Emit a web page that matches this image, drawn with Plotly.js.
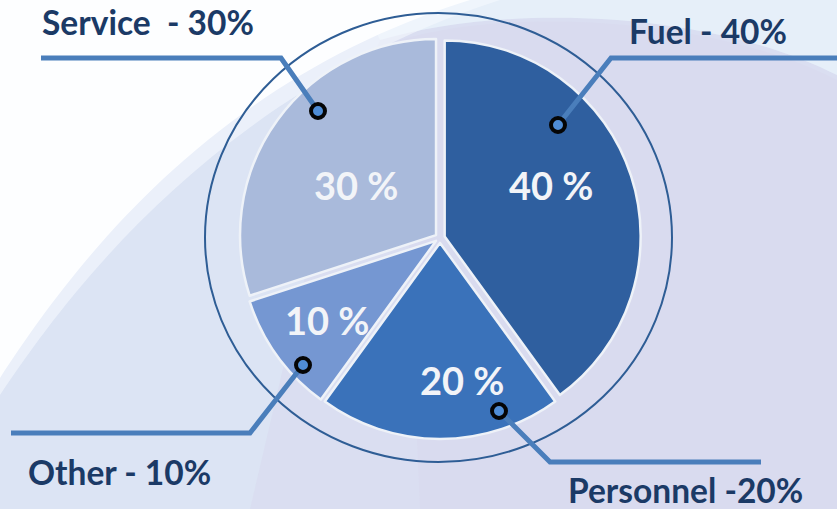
<!DOCTYPE html>
<html><head><meta charset="utf-8">
<script src="https://cdn.plot.ly/plotly-3.0.1.min.js"></script>
<style>html,body{margin:0;padding:0;background:#DCE4F4;} #chart{width:837px;height:509px;}</style>
</head><body><div id="chart"></div>
<script>
// ---- data ----
const categories = ['Fuel', 'Personnel', 'Other', 'Service'];
const shares = [40, 20, 10, 30];
const calloutLabels = ['Fuel - 40%', 'Personnel -20%', 'Other - 10%', 'Service\u00A0\u00A0- 30%'];
const sliceLabels = shares.map(v => v + ' %');
const sliceColors = ['#2F5F9F', '#3A72BA', '#7597D2', '#A9BADB'];

// ---- helpers (pixel -> paper) ----
const W = 837, H = 509;
const X = px => px / W;
const Y = py => 1 - py / H;
function path(cmds) {
  return cmds.map(c => c[0] + ' ' + c.slice(1).map((v, i) => (i % 2 === 0 ? X(v) : Y(v)).toFixed(5)).join(' ')).join(' ');
}

// pie geometry
const cx = 440, cy = 238, r = 196, pull = 0.025;
const half = r * (1 + pull);

const shapes = [];
// background: lavender right side
shapes.push({type: 'path', layer: 'below', xref: 'paper', yref: 'paper', line: {width: 0},
  fillcolor: 'rgba(217,219,239,0.6)',
  path: path([['M', 380, 40], ['C', 520, 0, 720, 15, 837, 75], ['L', 837, 509], ['L', 250, 509], ['C', 300, 300, 330, 150, 380, 40], ['Z']])});
shapes.push({type: 'path', layer: 'below', xref: 'paper', yref: 'paper', line: {width: 0},
  fillcolor: '#D9DBEF',
  path: path([['M', 400, 40], ['C', 520, 5, 720, 20, 837, 80], ['L', 837, 509], ['L', 420, 509], ['Z']])});
// top band
shapes.push({type: 'path', layer: 'below', xref: 'paper', yref: 'paper', line: {width: 0},
  fillcolor: '#E6EFF9',
  path: path([['M', 360, 0], ['L', 837, 0], ['L', 837, 75], ['C', 720, 15, 520, 0, 380, 40], ['Z']])});
// white swoosh (soft edge + core)
shapes.push({type: 'path', layer: 'below', xref: 'paper', yref: 'paper', line: {width: 0},
  fillcolor: 'rgba(245,249,254,0.6)',
  path: path([['M', 0, 0], ['L', 0, 395], ['C', 70, 290, 220, 90, 500, 0], ['Z']])});
shapes.push({type: 'path', layer: 'below', xref: 'paper', yref: 'paper', line: {width: 0},
  fillcolor: '#FDFEFF',
  path: path([['M', 0, 0], ['L', 0, 378], ['C', 70, 270, 210, 80, 470, 0], ['Z']])});
// outer ellipse
shapes.push({type: 'circle', layer: 'above', xref: 'paper', yref: 'paper',
  x0: X(205), x1: X(672), y0: Y(462), y1: Y(13), line: {color: '#2E5D95', width: 2}});

// callouts: [horizontal end, elbow, dot] per category, in pixels (layout)
const callouts = [
  [[837, 58], [611, 58], [558, 125]],
  [[761, 462], [550, 462], [499, 411]],
  [[11, 433], [250, 433], [303, 365]],
  [[41, 58], [281, 58], [318, 111]]
];
callouts.forEach(c => {
  shapes.push({type: 'path', layer: 'above', xref: 'paper', yref: 'paper',
    line: {color: '#4A7EBB', width: 5},
    path: path([['M', c[0][0], c[0][1]], ['L', c[1][0], c[1][1]], ['L', c[2][0], c[2][1]]])});
  const d = c[2], rr = 7;
  shapes.push({type: 'circle', layer: 'above', xref: 'paper', yref: 'paper',
    x0: X(d[0] - rr), x1: X(d[0] + rr), y0: Y(d[1] + rr), y1: Y(d[1] - rr),
    fillcolor: '#4F8DD6', line: {color: '#050505', width: 4}});
});

// label positions (layout)
const labelPos = [
  {x: 627, y: 31},
  {x: 566, y: 490},
  {x: 26, y: 472},
  {x: 40, y: 22}
];
const innerPos = [[551, 185], [462, 380], [327, 320], [356, 185]];

const annotations = [];
categories.forEach((c, i) => {
  annotations.push({xref: 'paper', yref: 'paper', x: X(labelPos[i].x), y: Y(labelPos[i].y),
    xanchor: 'left', yanchor: 'middle', showarrow: false,
    text: calloutLabels[i],
    font: {family: 'Lato, "Open Sans", sans-serif', size: 33.5, weight: 700, color: '#1B3A66'}});
  annotations.push({xref: 'paper', yref: 'paper', x: X(innerPos[i][0]), y: Y(innerPos[i][1]),
    xanchor: 'center', yanchor: 'middle', showarrow: false,
    text: sliceLabels[i],
    font: {family: 'Lato, "Open Sans", sans-serif', size: 38, weight: 700, color: '#F2F4F8'}});
});

const trace = {
  type: 'pie',
  labels: categories,
  values: shares,
  sort: false,
  direction: 'clockwise',
  rotation: 0,
  pull: shares.map(() => pull),
  textinfo: 'none',
  hoverinfo: 'label+percent',
  marker: {colors: sliceColors, line: {color: '#EEF2F8', width: 2.5}},
  domain: {x: [X(cx - half), X(cx + half)], y: [Y(cy + half), Y(cy - half)]},
  showlegend: false
};

const layout = {
  width: W, height: H,
  margin: {l: 0, r: 0, t: 0, b: 0},
  paper_bgcolor: '#DCE4F4',
  showlegend: false,
  shapes: shapes,
  annotations: annotations
};

Plotly.newPlot('chart', [trace], layout, {displayModeBar: false, staticPlot: true});
</script>
</body></html>
